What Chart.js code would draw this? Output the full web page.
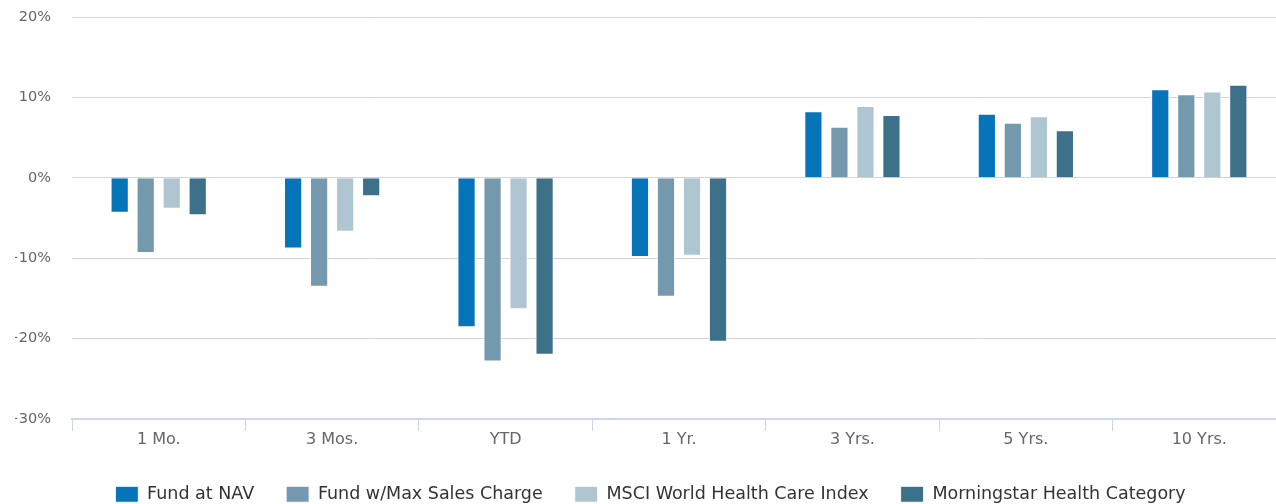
<!DOCTYPE html>
<html>
<head>
<meta charset="utf-8">
<script src="https://cdn.jsdelivr.net/npm/chart.js@4/dist/chart.umd.min.js"></script>
<style>
  html, body { margin: 0; padding: 0; background: #fff; overflow: hidden; }
  /* plot runs a little past the right edge of the page */
  #wrap { width: 1286px; height: 504px; position: relative; }
</style>
</head>
<body>
<div id="wrap"><canvas id="perfChart"></canvas></div>
<script>
// periods and returns (%)
var periods = ['1 Mo.', '3 Mos.', 'YTD', '1 Yr.', '3 Yrs.', '5 Yrs.', '10 Yrs.'];
var fundNav = [-4.35, -8.8, -18.6, -9.85, 8.27, 7.98, 11.02];
var fundMaxCharge = [-9.35, -13.55, -22.85, -14.8, 6.35, 6.86, 10.4];
var msciIndex = [-3.85, -6.7, -16.35, -9.7, 8.94, 7.65, 10.73];
var morningstarCat = [-4.65, -2.3, -22.0, -20.4, 7.8, 5.9, 11.56];
var yTicks = [-30, -20, -10, 0, 10, 20];

var fontFam = '"DejaVu Sans", Verdana, sans-serif';

function makeSet(label, color, data) {
    return {
        label: label,
        backgroundColor: color,
        borderColor: '#ffffff',
        borderWidth: 1,
        data: data,
        categoryPercentage: 0.6,
        barPercentage: 0.7
    };
}

var ctx = document.getElementById('perfChart').getContext('2d');
var perfChart = new Chart(ctx, {
    type: 'bar',
    data: {
        labels: periods,
        datasets: [
            makeSet('Fund at NAV', '#0674b9', fundNav),
            makeSet('Fund w/Max Sales Charge', '#7499ae', fundMaxCharge),
            makeSet('MSCI World Health Care Index', '#afc6d2', msciIndex),
            makeSet('Morningstar Health Category', '#3c7189', morningstarCat)
        ]
    },
    options: {
        responsive: true,
        maintainAspectRatio: false,
        animation: false,
        layout: { padding: { top: 17, right: 0, left: 15, bottom: -9 } },
        plugins: {
            tooltip: { enabled: false },
            legend: {
                position: 'bottom',
                labels: {
                    boxWidth: 23,
                    boxHeight: 16,
                    padding: 32,
                    color: '#333333',
                    font: { family: fontFam, size: 17.5 }
                }
            }
        },
        scales: {
            x: {
                offset: true,
                grid: {
                    offset: true,
                    drawOnChartArea: false,
                    drawTicks: true,
                    tickLength: 12,
                    color: '#ccd6eb'
                },
                border: { display: true, color: '#ccd6eb', width: 2 },
                ticks: {
                    color: '#666666',
                    padding: -1,
                    font: { family: fontFam, size: 16 }
                },
                afterFit: function(axis) {
                    axis.height = 34.5;
                }
            },
            y: {
                min: -30,
                max: 20,
                afterBuildTicks: function(axis) {
                    axis.ticks = yTicks.map(function(v) { return { value: v }; });
                },
                afterFit: function(axis) {
                    axis.width = 57;
                },
                grid: {
                    color: '#d4d4d4',
                    lineWidth: 1,
                    drawTicks: true,
                    tickLength: 21,
                    tickColor: 'rgba(0,0,0,0)'
                },
                border: { display: false },
                ticks: {
                    color: '#666666',
                    padding: 0,
                    font: { family: fontFam, size: 14.5 },
                    callback: function(v) {
                        return (v < 0 ? '\u2212' + Math.abs(v) : v) + '%';
                    }
                }
            }
        }
    }
});
</script>
</body>
</html>
